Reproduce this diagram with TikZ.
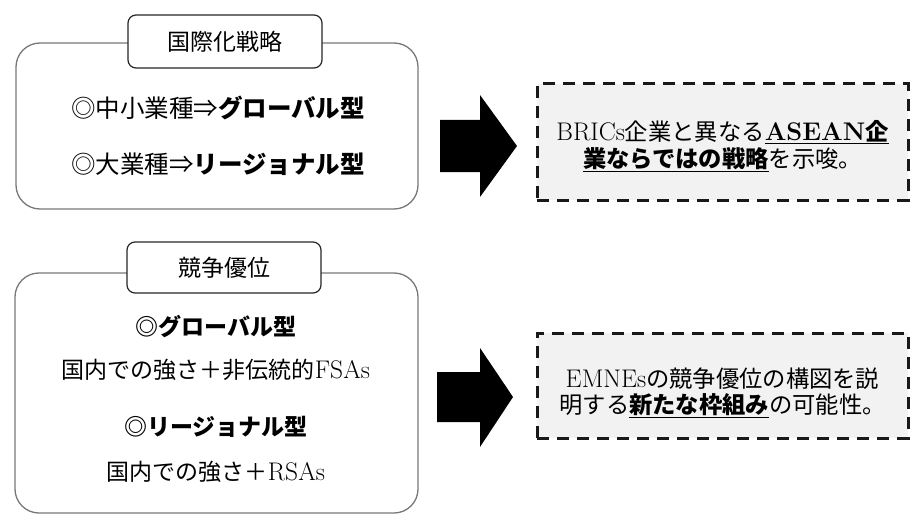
\documentclass[tikz,border=0pt]{standalone}
\usepackage{fontspec}
\newfontfamily\jp{Noto Sans CJK JP}
\newcommand{\lat}[1]{{\fontsize{25.5}{26}\selectfont #1}}
\definecolor{outline}{RGB}{120,120,120}
\definecolor{notefill}{RGB}{242,242,242}
\begin{document}
\begin{tikzpicture}[x=1pt,y=-1pt,
  outerbox/.style={draw=outline, line width=1.3pt, rounded corners=24pt, fill=white, inner sep=0pt},
  labelbox/.style={draw=black!85, line width=1.2pt, rounded corners=8pt, fill=white, inner sep=0pt,
    font=\jp\fontsize{23}{26}\selectfont},
  notebox/.style={draw=black!90, line width=3pt, dash pattern=on 12pt off 8pt, fill=notefill, inner sep=0pt},
  linetext/.style={inner sep=0pt, font=\fontsize{23}{26}\selectfont},
  toptext/.style={inner sep=0pt, font=\fontsize{24.5}{26}\selectfont},
  notetext/.style={inner sep=0pt, align=center, font=\fontsize{23.3}{26.5}\selectfont},
  bigarrow/.style={fill=black}]
\useasboundingbox (0,0) rectangle (910,516);

% ---- top left group
\node[outerbox, minimum width=402pt, minimum height=166pt] (box1) at (217,126) {};
\node[labelbox, minimum width=194pt, minimum height=53pt] (lab1) at (225,41.5) {国際化戦略};
\node[toptext] (l1a) at (218,108) {\jp ◎中小業種⇒\textbf{グローバル型}};
\node[toptext] (l1b) at (218,164) {\jp ◎大業種⇒\textbf{リージョナル型}};

% ---- bottom left group
\node[outerbox, minimum width=403pt, minimum height=240pt] (box2) at (216.5,393) {};
\node[labelbox, minimum width=194pt, minimum height=51pt] (lab2) at (224,267.5) {競争優位};
\node[linetext] (l2a) at (216,327) {\jp\bfseries ◎グローバル型};
\node[linetext] (l2b) at (216,370) {{\jp 国内での強さ＋非伝統的}\lat{FSAs}};
\node[linetext] (l2c) at (216,427) {\jp\bfseries ◎リージョナル型};
\node[linetext] (l2d) at (216,472) {{\jp 国内での強さ＋}\lat{RSAs}};

% ---- block arrows
\fill[bigarrow] (440,120) -- (480,120) -- (480,95) -- (517,146) -- (480,197) -- (480,172) -- (440,172) -- cycle;
\fill[bigarrow] (437,372) -- (480,372) -- (480,348) -- (513,397) -- (480,447) -- (480,422) -- (437,422) -- cycle;

% ---- right notes
\node[notebox, minimum width=371pt, minimum height=116pt] (note1) at (722.5,142) {};
\node[notetext] (n1) at (722.5,146) {\lat{BRICs}{\jp 企業と異なる}\underline{\textbf{\lat{ASEAN}{\jp 企}}}\\
  \underline{\jp\bfseries 業ならではの戦略}{\jp を示唆。}};

\node[notebox, minimum width=371pt, minimum height=105pt] (note2) at (722.5,385.5) {};
\node[notetext] (n2) at (722.5,393) {\lat{EMNEs}{\jp の競争優位の構図を説}\\
  {\jp 明する}\underline{\jp\bfseries 新たな枠組み}{\jp の可能性。}};
\end{tikzpicture}
\end{document}
